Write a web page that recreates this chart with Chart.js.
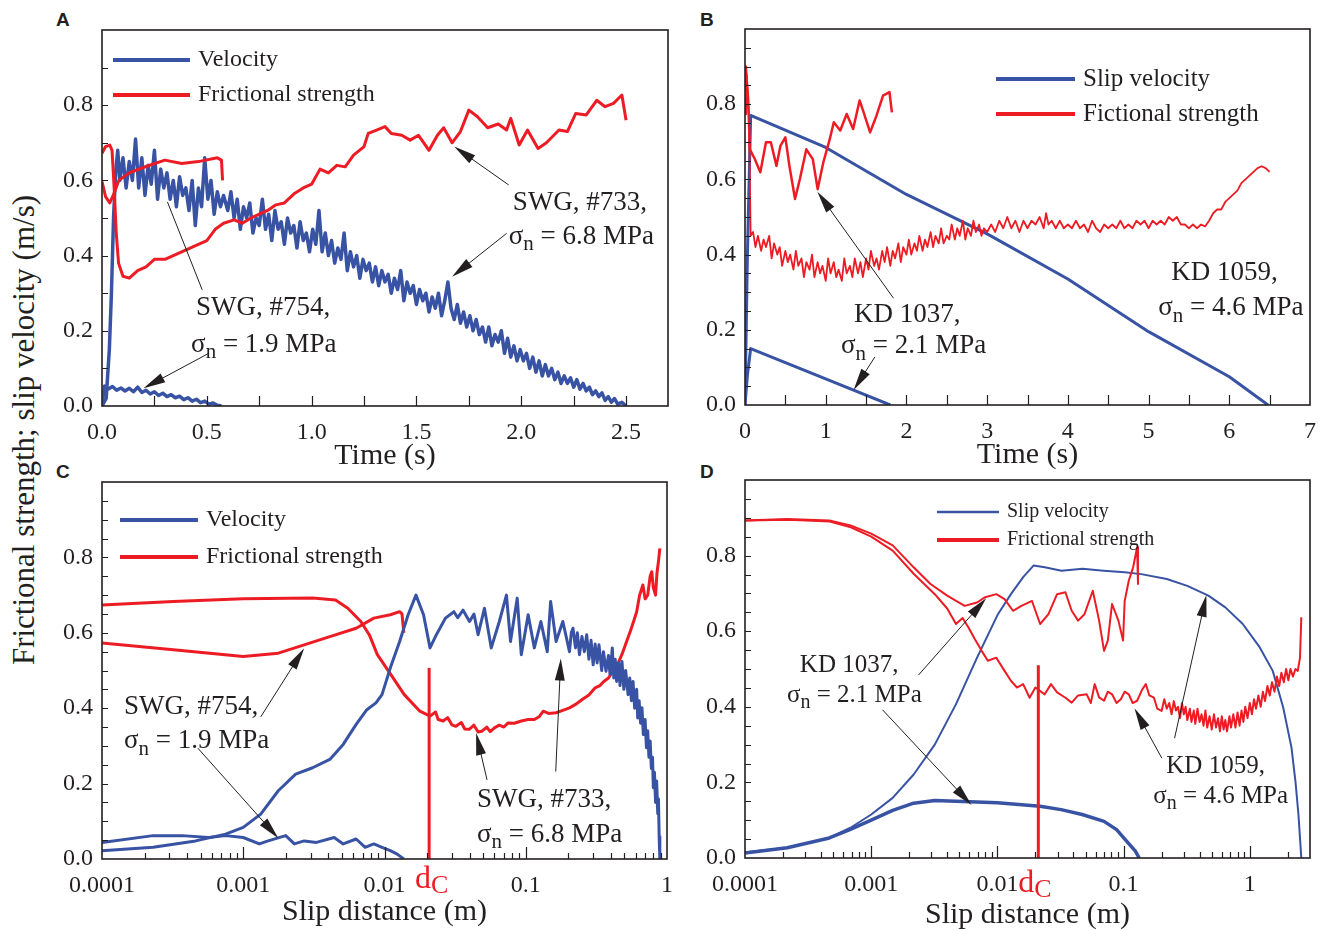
<!DOCTYPE html>
<html>
<head>
<meta charset="utf-8">
<title>Slip velocity and frictional strength</title>
<script src="https://cdn.jsdelivr.net/npm/chart.js@4.4.1/dist/chart.umd.min.js"></script>
<style>
  body { margin: 0; background: #fff; }
  #fig { position: relative; width: 1323px; height: 931px; overflow: hidden; background: #fff; }
  #fig canvas { position: absolute; }
  .tag { position: absolute; font: bold 19px "Liberation Sans", Arial, sans-serif; line-height: 19px; color: #231f20; }
  #ytitle { position: absolute; left: -276px; top: 413px; width: 600px; height: 34px;
            font: 31px "Liberation Serif", "Times New Roman", serif; line-height: 34px;
            text-align: center; color: #231f20; transform: rotate(-90deg); }
</style>
</head>
<body>
<div id="fig">
  <div class="tag" style="left:56px;top:10px">A</div>
  <div class="tag" style="left:700px;top:10px">B</div>
  <div class="tag" style="left:56px;top:462px">C</div>
  <div class="tag" style="left:700px;top:462px">D</div>
  <div id="ytitle">Frictional strength; slip velocity (m/s)</div>
  <canvas id="chartA"></canvas>
  <canvas id="chartB"></canvas>
  <canvas id="chartC"></canvas>
  <canvas id="chartD"></canvas>
</div>
<script>
// colours / fonts
const BLUE = '#3953a4', RED = '#ed1c24', INK = '#231f20';
const SERIF = '"Liberation Serif", "Times New Roman", serif';

// tick labels
const yTickLabels = ['0.0', '0.2', '0.4', '0.6', '0.8'];
const timeLabelsA = ['0.0', '0.5', '1.0', '1.5', '2.0', '2.5'];
const timeLabelsB = ['0', '1', '2', '3', '4', '5', '6', '7'];
const slipLabels = ['0.0001', '0.001', '0.01', '0.1', '1'];

// ---- A : SWG, time (s) ----
const velA733 = [[0,0],[0.02,0.02],[0.035,0.15],[0.045,0.3],[0.055,0.5],[0.065,0.62],[0.075,0.68],[0.085,0.6],[0.1,0.66],[0.115,0.58],[0.13,0.65],[0.145,0.6],[0.16,0.71],[0.175,0.58],[0.19,0.66],[0.205,0.56],[0.22,0.64],[0.235,0.59],[0.25,0.68],[0.265,0.55],[0.28,0.63],[0.295,0.58],[0.31,0.62],[0.325,0.55],[0.34,0.6],[0.355,0.53],[0.37,0.61],[0.385,0.56],[0.4,0.58],[0.415,0.52],[0.43,0.6],[0.445,0.48],[0.46,0.58],[0.475,0.53],[0.49,0.66],[0.505,0.55],[0.52,0.6],[0.535,0.51],[0.55,0.57],[0.565,0.53],[0.58,0.56],
  [0.6,0.52],[0.615,0.57],[0.63,0.5],[0.645,0.55],[0.66,0.47],[0.675,0.53],[0.69,0.5],[0.705,0.54],[0.72,0.46],[0.735,0.5],[0.75,0.48],[0.765,0.55],[0.78,0.47],[0.795,0.51],[0.81,0.44],[0.825,0.52],[0.84,0.47],[0.855,0.49],[0.87,0.43],[0.885,0.5],[0.9,0.46],[0.915,0.48],[0.93,0.42],[0.945,0.49],[0.96,0.44],[0.975,0.46],[0.99,0.41],[1.005,0.47],[1.02,0.43],[1.035,0.52],[1.05,0.41],[1.065,0.46],[1.08,0.4],[1.095,0.44],[1.11,0.38],[1.125,0.42],[1.14,0.39],[1.155,0.46],[1.17,0.36],[1.185,0.41],[1.2,0.37],[1.215,0.4],[1.23,0.34],[1.245,0.39],[1.26,0.36],[1.275,0.38],[1.29,0.33],[1.305,0.37],[1.32,0.32],[1.335,0.36],[1.35,0.33],[1.365,0.35],[1.38,0.3],[1.395,0.34],[1.41,0.31],[1.425,0.36],[1.44,0.28],[1.455,0.33],[1.47,0.3],[1.485,0.32],[1.5,0.27],[1.515,0.31],[1.53,0.28],[1.545,0.3],[1.56,0.25],[1.575,0.29],[1.59,0.26],[1.605,0.3],[1.62,0.24],[1.635,0.28],[1.65,0.33],[1.665,0.26],[1.68,0.23],[1.695,0.27],[1.71,0.22],[1.725,0.25],[1.74,0.21],[1.755,0.24],[1.77,0.2],[1.785,0.23],[1.8,0.19],[1.815,0.21],[1.83,0.17],[1.845,0.21],[1.86,0.16],[1.875,0.19],[1.89,0.17],[1.905,0.2],[1.92,0.14],[1.935,0.18],[1.95,0.13],[1.965,0.16],[1.98,0.12],[1.995,0.15],[2.01,0.12],[2.025,0.14],[2.04,0.1],[2.055,0.13],[2.07,0.09],[2.085,0.12],[2.1,0.08],[2.115,0.11],[2.13,0.08],[2.145,0.1],[2.16,0.07],[2.175,0.09],[2.19,0.06],[2.205,0.08],[2.22,0.06],[2.235,0.075],[2.25,0.05],[2.265,0.07],[2.28,0.045],[2.295,0.06],[2.31,0.04],[2.325,0.05],[2.34,0.03],[2.355,0.04],[2.37,0.025],[2.385,0.035],[2.4,0.015],[2.415,0.025],[2.43,0.01],[2.445,0.02],[2.46,0.005],[2.48,0.01],[2.5,0]];
const strA733 = [[0,0.672],[0.017,0.69],[0.037,0.694],[0.048,0.68],[0.058,0.58],[0.068,0.46],[0.079,0.38],[0.1,0.345],[0.13,0.34],[0.17,0.36],[0.21,0.37],[0.25,0.39],[0.3,0.39],[0.34,0.4],[0.38,0.41],[0.42,0.42],[0.46,0.43],[0.5,0.44],[0.54,0.47],[0.58,0.486],[0.63,0.495],[0.67,0.486],[0.71,0.5],[0.75,0.51],[0.79,0.52],[0.83,0.535],[0.87,0.54],[0.92,0.566],[0.96,0.58],[1,0.59],[1.04,0.63],[1.08,0.62],[1.12,0.64],[1.16,0.636],[1.2,0.667],[1.25,0.69],[1.27,0.725],[1.31,0.734],[1.35,0.743],[1.38,0.725],[1.43,0.72],[1.47,0.707],[1.51,0.72],[1.56,0.68],[1.6,0.72],[1.63,0.74],[1.67,0.7],[1.71,0.73],[1.75,0.787],[1.79,0.77],[1.84,0.74],[1.89,0.75],[1.93,0.734],[1.95,0.765],[1.99,0.694],[2.03,0.734],[2.08,0.685],[2.12,0.7],[2.18,0.734],[2.22,0.73],[2.26,0.778],[2.31,0.774],[2.36,0.813],[2.4,0.796],[2.44,0.805],[2.48,0.827],[2.5,0.76]];
const velA754 = [[0,0],[0.012,0.053],[0.03,0.045],[0.05,0.052],[0.07,0.042],[0.09,0.048],[0.11,0.04],[0.13,0.047],[0.15,0.038],[0.17,0.05],[0.19,0.036],[0.21,0.042],[0.23,0.032],[0.25,0.038],[0.27,0.028],[0.29,0.034],[0.31,0.025],[0.33,0.03],[0.35,0.022],[0.37,0.026],[0.39,0.017],[0.41,0.022],[0.43,0.013],[0.45,0.018],[0.47,0.009],[0.49,0.013],[0.51,0.005],[0.53,0.008],[0.55,0.002],[0.57,0]];
const strA754 = [[0,0.597],[0.017,0.557],[0.037,0.54],[0.058,0.566],[0.08,0.6],[0.13,0.62],[0.21,0.637],[0.3,0.654],[0.38,0.645],[0.46,0.65],[0.55,0.66],[0.57,0.654],[0.575,0.6]];

// ---- B : KD, time (s) ----
const velB1059 = [[0,0],[0.03,0.4],[0.07,0.77],[1,0.685],[2,0.56],[3,0.455],[4,0.335],[5,0.195],[6,0.075],[6.48,0]];
const velB1037 = [[0,0],[0.03,0.08],[0.07,0.15],[0.9,0.078],[1.8,0]];
const strB1037 = [[0,0.774],[0.01,0.9],[0.04,0.81],[0.06,0.68],[0.12,0.655],[0.19,0.619],[0.26,0.699],[0.32,0.699],[0.39,0.636],[0.44,0.69],[0.5,0.712],[0.55,0.636],[0.62,0.548],[0.68,0.601],[0.76,0.68],[0.84,0.654],[0.9,0.574],[0.97,0.645],[1.05,0.707],[1.1,0.752],[1.18,0.73],[1.26,0.774],[1.34,0.734],[1.42,0.81],[1.47,0.778],[1.55,0.725],[1.63,0.77],[1.71,0.823],[1.79,0.832],[1.82,0.778]];
const strB1059 = [[0,0.8],[0.02,0.88],[0.05,0.76],[0.07,0.45],[0.1,0.46],[0.13,0.42],[0.16,0.45],[0.2,0.41],[0.23,0.44],[0.26,0.42],[0.3,0.45],[0.33,0.39],[0.36,0.43],[0.4,0.4],[0.43,0.42],[0.46,0.37],[0.5,0.41],[0.53,0.38],[0.56,0.4],[0.6,0.36],[0.63,0.41],[0.66,0.37],[0.7,0.39],[0.73,0.34],[0.76,0.38],[0.8,0.36],[0.83,0.4],[0.86,0.34],[0.9,0.38],[0.93,0.35],[0.96,0.37],[1,0.33],[1.03,0.39],[1.06,0.35],[1.1,0.38],[1.13,0.34],[1.16,0.36],[1.2,0.33],[1.23,0.39],[1.26,0.35],[1.3,0.37],[1.33,0.34],[1.36,0.39],[1.4,0.35],[1.43,0.38],[1.46,0.34],[1.5,0.39],[1.53,0.36],[1.56,0.41],[1.6,0.37],[1.63,0.39],[1.66,0.36],[1.7,0.41],[1.73,0.38],[1.76,0.42],[1.8,0.37],[1.83,0.41],[1.86,0.39],[1.9,0.43],[1.93,0.38],[1.96,0.42],[2,0.4],[2.03,0.44],[2.06,0.4],[2.1,0.43],[2.13,0.41],[2.16,0.45],[2.2,0.41],[2.23,0.44],[2.26,0.42],[2.3,0.46],[2.33,0.42],[2.36,0.45],[2.4,0.43],[2.43,0.47],[2.46,0.43],[2.5,0.45],[2.53,0.44],[2.56,0.48],[2.6,0.44],[2.63,0.47],[2.66,0.45],[2.7,0.49],[2.73,0.44],[2.76,0.47],[2.8,0.45],[2.83,0.49],[2.86,0.46],[2.9,0.48],[2.93,0.45],[2.96,0.47],[3,0.46],
  [3.05,0.48],[3.1,0.46],[3.15,0.49],[3.2,0.47],[3.25,0.5],[3.3,0.47],[3.35,0.49],[3.4,0.46],[3.45,0.49],[3.5,0.47],[3.55,0.49],[3.6,0.48],[3.65,0.5],[3.7,0.47],[3.73,0.51],[3.76,0.48],[3.8,0.49],[3.85,0.47],[3.9,0.49],[3.95,0.47],[4,0.48],[4.05,0.47],[4.1,0.49],[4.15,0.47],[4.2,0.48],[4.25,0.46],[4.3,0.49],[4.35,0.47],[4.4,0.46],[4.45,0.48],[4.5,0.47],[4.55,0.48],[4.6,0.47],[4.65,0.49],[4.7,0.47],[4.75,0.48],[4.8,0.47],[4.85,0.49],[4.9,0.48],[4.95,0.49],[5,0.47],[5.05,0.49],[5.1,0.48],[5.15,0.49],[5.2,0.48],[5.25,0.5],[5.3,0.49],[5.35,0.5],[5.4,0.48],[5.45,0.48],[5.5,0.47],[5.55,0.48],[5.6,0.47],[5.65,0.48],[5.7,0.475],[5.75,0.49],[5.8,0.51],[5.85,0.52],[5.9,0.52],[5.95,0.54],[6,0.55],[6.05,0.56],[6.1,0.57],[6.15,0.59],[6.2,0.6],[6.25,0.61],[6.3,0.62],[6.35,0.63],[6.4,0.635],[6.45,0.63],[6.5,0.62]];

// ---- C : SWG, slip distance (m) ----
const velC733 = [[1e-4,0.022],[2.3e-4,0.031],[4.6e-4,0.048],[7.5e-4,0.066],[1e-3,0.084],[1.33e-3,0.119],[1.77e-3,0.181],[2.35e-3,0.225],[3.1e-3,0.242],[4.1e-3,0.264],[5.1e-3,0.304],[6.3e-3,0.357],[7.5e-3,0.396],[8.7e-3,0.414],[9.6e-3,0.436],[0.011,0.507],[0.0128,0.577],[0.0147,0.648],[0.0167,0.7],[0.0189,0.648],[0.021,0.56],[0.0233,0.595],[0.027,0.639],[0.031,0.656],[0.033,0.64],[0.036,0.66],[0.04,0.63],[0.043,0.65],[0.046,0.595],[0.051,0.665],[0.057,0.56],[0.065,0.63],[0.073,0.7],[0.078,0.577],[0.087,0.692],[0.093,0.542],[0.104,0.648],[0.115,0.56],[0.128,0.63],[0.142,0.55],[0.15,0.683],[0.164,0.577],[0.183,0.63],[0.204,0.55],[0.21,0.6],[0.216,0.612],[0.225,0.56],[0.232,0.6],[0.24,0.542],[0.25,0.59],[0.26,0.55],[0.27,0.595],[0.28,0.53],[0.29,0.58],[0.3,0.515],[0.31,0.57],[0.32,0.52],[0.33,0.568],[0.345,0.5],[0.355,0.55],[0.37,0.498],[0.385,0.54],[0.395,0.49],[0.41,0.56],[0.42,0.48],[0.43,0.53],[0.44,0.471],[0.455,0.52],[0.465,0.46],[0.48,0.524],[0.495,0.45],[0.51,0.5],[0.53,0.436],[0.545,0.48],[0.56,0.42],[0.575,0.471],[0.59,0.4],[0.61,0.45],[0.62,0.374],[0.635,0.42],[0.65,0.36],[0.665,0.401],[0.68,0.33],[0.7,0.37],[0.715,0.295],[0.73,0.34],[0.745,0.27],[0.76,0.313],[0.775,0.24],[0.79,0.27],[0.8,0.189],[0.815,0.23],[0.83,0.15],[0.845,0.207],[0.86,0.12],[0.87,0.16],[0.88,0.06],[0.89,0]];
const strC733 = [[1e-4,0.674],[3.2e-4,0.683],[1e-3,0.69],[3.1e-3,0.692],[4.5e-3,0.687],[5.5e-3,0.665],[6.8e-3,0.63],[7.8e-3,0.595],[8.9e-3,0.542],[0.0111,0.489],[0.0138,0.436],[0.0178,0.392],[0.021,0.379],[0.023,0.39],[0.024,0.37],[0.026,0.366],[0.028,0.375],[0.03,0.356],[0.032,0.352],[0.035,0.362],[0.037,0.345],[0.0398,0.344],[0.043,0.355],[0.046,0.337],[0.049,0.339],[0.053,0.35],[0.056,0.338],[0.06,0.348],[0.065,0.355],[0.07,0.35],[0.075,0.361],[0.083,0.36],[0.093,0.366],[0.104,0.37],[0.115,0.37],[0.125,0.378],[0.133,0.392],[0.145,0.386],[0.164,0.388],[0.185,0.395],[0.204,0.401],[0.225,0.41],[0.251,0.423],[0.28,0.435],[0.31,0.454],[0.335,0.46],[0.357,0.471],[0.385,0.48],[0.414,0.498],[0.445,0.515],[0.479,0.542],[0.51,0.57],[0.55,0.604],[0.58,0.63],[0.61,0.656],[0.64,0.7],[0.675,0.727],[0.7,0.69],[0.73,0.7],[0.76,0.75],[0.78,0.762],[0.8,0.72],[0.83,0.7],[0.85,0.76],[0.87,0.789],[0.89,0.824]];
const velC754 = [[1e-4,0.044],[2.3e-4,0.062],[3.7e-4,0.062],[5.7e-4,0.057],[7.5e-4,0.062],[1e-3,0.057],[1.3e-3,0.04],[1.5e-3,0.048],[2e-3,0.062],[2.3e-3,0.04],[2.7e-3,0.048],[3.3e-3,0.044],[4.4e-3,0.057],[5.1e-3,0.04],[6.3e-3,0.053],[7.3e-3,0.031],[8.4e-3,0.04],[9.6e-3,0.031],[0.011,0.022],[0.0123,0.013],[0.0137,0]];
const strC754 = [[1e-4,0.573],[3.2e-4,0.555],[1e-3,0.537],[1.77e-3,0.546],[2.7e-3,0.568],[4.1e-3,0.59],[6.3e-3,0.612],[8.4e-3,0.639],[0.011,0.648],[0.0128,0.656],[0.0133,0.65],[0.0137,0.6]];
const dcLineC = [[0.0207,0],[0.0207,0.507]];

// ---- D : KD, slip distance (m) ----
const velD1059 = [[1e-4,0.015],[2.16e-4,0.027],[4.66e-4,0.053],[6.85e-4,0.08],[1e-3,0.115],[1.48e-3,0.159],[2.17e-3,0.221],[3.19e-3,0.3],[4.7e-3,0.407],[6.9e-3,0.53],[0.0101,0.645],[0.0128,0.698],[0.016,0.743],[0.0194,0.774],[0.0237,0.769],[0.0322,0.76],[0.0473,0.765],[0.0695,0.76],[0.102,0.756],[0.138,0.751],[0.22,0.738],[0.32,0.72],[0.47,0.694],[0.64,0.663],[0.88,0.619],[1.2,0.557],[1.52,0.495],[1.84,0.398],[2.14,0.292],[2.3,0.203],[2.43,0.115],[2.56,0]];
const velD1037 = [[1e-4,0.013],[2.16e-4,0.027],[4.66e-4,0.053],[6.85e-4,0.076],[1e-3,0.1],[1.48e-3,0.126],[2.17e-3,0.145],[3.19e-3,0.152],[4.7e-3,0.15],[0.01,0.146],[0.0218,0.137],[0.032,0.128],[0.047,0.115],[0.07,0.097],[0.088,0.075],[0.106,0.044],[0.124,0.018],[0.133,0]];
const strD1037 = [[1e-4,0.893],[2.16e-4,0.897],[4.66e-4,0.893],[6.85e-4,0.88],[1e-3,0.858],[1.48e-3,0.827],[2.17e-3,0.769],[2.95e-3,0.725],[4e-3,0.694],[5.5e-3,0.667],[6.9e-3,0.676],[8e-3,0.69],[9.8e-3,0.698],[0.0114,0.685],[0.0133,0.654],[0.0155,0.667],[0.0188,0.68],[0.0218,0.619],[0.0254,0.645],[0.0297,0.698],[0.0346,0.703],[0.0388,0.654],[0.0436,0.628],[0.049,0.645],[0.057,0.707],[0.064,0.628],[0.07,0.548],[0.075,0.575],[0.081,0.672],[0.091,0.628],[0.099,0.575],[0.102,0.68],[0.11,0.734],[0.119,0.769],[0.128,0.822],[0.13,0.725]];
const strD1059 = [[1e-4,0.893],[2.2e-4,0.895],[4.7e-4,0.89],[6.9e-4,0.875],[1e-3,0.85],[1.48e-3,0.813],[2.17e-3,0.752],[3.19e-3,0.698],[4e-3,0.66],[4.7e-3,0.619],[5.3e-3,0.635],[5.9e-3,0.61],[6.6e-3,0.58],[7.5e-3,0.548],[8.4e-3,0.522],[9.8e-3,0.53],[0.0114,0.495],[0.0128,0.469],[0.0143,0.451],[0.016,0.46],[0.018,0.424],[0.02,0.451],[0.0237,0.433],[0.0266,0.46],[0.0297,0.438],[0.0346,0.424],[0.0388,0.411],[0.0436,0.43],[0.051,0.433],[0.055,0.41],[0.059,0.46],[0.064,0.425],[0.07,0.416],[0.075,0.44],[0.081,0.433],[0.088,0.41],[0.095,0.42],[0.102,0.44],[0.11,0.433],[0.118,0.41],[0.128,0.416],[0.14,0.445],[0.15,0.46],[0.16,0.43],[0.174,0.424],[0.185,0.395],[0.2,0.389],[0.21,0.42],[0.22,0.395],[0.23,0.41],[0.24,0.38],[0.25,0.415],[0.26,0.39],[0.27,0.4],[0.28,0.37],[0.29,0.41],[0.3,0.38],[0.31,0.4],[0.32,0.365],[0.335,0.395],[0.345,0.36],[0.36,0.39],[0.37,0.355],[0.385,0.395],[0.4,0.36],[0.415,0.38],[0.43,0.35],[0.445,0.39],[0.46,0.345],[0.48,0.375],[0.5,0.34],[0.52,0.38],[0.54,0.345],[0.56,0.37],[0.58,0.335],[0.6,0.375],[0.62,0.34],[0.64,0.365],[0.66,0.335],[0.69,0.375],[0.71,0.345],[0.74,0.38],[0.77,0.345],[0.8,0.385],[0.83,0.35],[0.86,0.39],[0.89,0.36],[0.92,0.4],[0.96,0.37],[1,0.41],[1.04,0.38],[1.08,0.42],[1.12,0.395],[1.17,0.43],[1.22,0.4],[1.27,0.44],[1.32,0.415],[1.38,0.455],[1.44,0.43],[1.5,0.465],[1.57,0.44],[1.64,0.48],[1.71,0.455],[1.78,0.49],[1.86,0.465],[1.94,0.5],[2.02,0.47],[2.1,0.5],[2.2,0.48],[2.3,0.5],[2.4,0.495],[2.5,0.53],[2.56,0.637]];
const dcLineD = [[0.0211,0],[0.0211,0.51]];

// ---------------------------------------------------------------
const AXIS_W = 60, PAD_T = 10, PAD_R = 14;

const toXY = arr => arr.map(p => ({ x: p[0], y: p[1] }));
function series(arr, color, width) {
    return { data: toXY(arr), borderColor: color, borderWidth: width, pointRadius: 0,
             tension: 0, fill: false, borderJoinStyle: 'round' };
}

function yAxis() {
    return {
        type: 'linear', min: 0, max: 1,
        grid: { display: false, drawTicks: false }, border: { display: false },
        ticks: { stepSize: 0.2, autoSkip: false, padding: 9, color: INK,
                 font: { family: SERIF, size: 24 },
                 callback: v => yTickLabels[Math.round(v / 0.2)] ?? '' },
        afterFit: s => { s.width = AXIS_W; s.paddingTop = 0; s.paddingBottom = 0; }
    };
}

function xAxisBase(axH, title) {
    return {
        grid: { display: false, drawTicks: false }, border: { display: false },
        title: { display: true, text: title, color: INK, font: { family: SERIF, size: 30 }, padding: 0 },
        afterFit: s => { s.height = axH; s.paddingLeft = 0; s.paddingRight = 0; }
    };
}

function timeAxis(max, step, labels, axH) {
    return Object.assign(xAxisBase(axH, 'Time (s)'), {
        type: 'linear', min: 0, max,
        ticks: { stepSize: step, includeBounds: false, autoSkip: false, maxRotation: 0, padding: 12,
                 color: INK, font: { family: SERIF, size: 24 },
                 callback: v => labels[Math.round(v / step)] ?? '' }
    });
}

function slipAxis(max, axH) {
    return Object.assign(xAxisBase(axH, 'Slip distance (m)'), {
        type: 'logarithmic', min: 1e-4, max,
        ticks: { autoSkip: false, maxRotation: 0, padding: 12, color: INK,
                 font: { family: SERIF, size: 24 },
                 callback: v => {
                     const l = Math.log10(v), r = Math.round(l);
                     return Math.abs(l - r) < 1e-6 ? (slipLabels[r + 4] ?? '') : '';
                 } }
    });
}

// frame, inward ticks, legend, annotations
function decor(spec) {
    return {
        id: 'decor',
        afterDatasetsDraw(chart) {
            const ctx = chart.ctx, a = chart.chartArea;
            const sx = chart.scales.x, sy = chart.scales.y;
            const X = v => sx.getPixelForValue(v), Y = v => sy.getPixelForValue(v);
            ctx.save();
            ctx.strokeStyle = INK; ctx.fillStyle = INK;

            ctx.lineWidth = 1.2;
            ctx.beginPath();
            for (let k = 1; k * spec.yStep < 0.999; k++) {
                const y = Math.round(Y(k * spec.yStep)) + 0.5;
                ctx.moveTo(a.left, y); ctx.lineTo(a.left + 6, y);
            }
            if (spec.log) {
                for (let d = -4; d <= 0; d++) {
                    for (let m = 1; m <= 9; m++) {
                        const v = m * Math.pow(10, d);
                        if (v <= sx.min * 1.0001 || v >= sx.max * 0.999) continue;
                        const x = Math.round(X(v)) + 0.5;
                        ctx.moveTo(x, a.bottom); ctx.lineTo(x, a.bottom - (m === 1 ? 12 : 6));
                    }
                }
            } else {
                for (let k = 1; k * spec.xStep < sx.max - 1e-6; k++) {
                    const x = Math.round(X(k * spec.xStep)) + 0.5;
                    ctx.moveTo(x, a.bottom); ctx.lineTo(x, a.bottom - 10);
                }
            }
            ctx.stroke();

            ctx.lineWidth = 1.6;
            ctx.strokeRect(a.left, a.top, a.right - a.left, a.bottom - a.top);

            // legend
            const lg = spec.legend;
            ctx.textBaseline = 'middle';
            ctx.font = lg.size + 'px ' + SERIF;
            [BLUE, RED].forEach((c, i) => {
                const y = a.top + lg.ys[i];
                ctx.strokeStyle = c; ctx.lineWidth = lg.widths[i];
                ctx.beginPath(); ctx.moveTo(a.left + lg.x1, y); ctx.lineTo(a.left + lg.x2, y); ctx.stroke();
                ctx.fillStyle = INK;
                ctx.fillText(lg.labels[i], a.left + lg.tx, y);
            });

            // notes
            ctx.textBaseline = 'alphabetic';
            ctx.strokeStyle = INK; ctx.fillStyle = INK; ctx.lineWidth = 1;
            spec.notes.forEach(n => {
                if (n.k === 'text') {
                    ctx.font = spec.size + 'px ' + SERIF;
                    ctx.fillText(n.s, X(n.x), Y(n.y));
                } else if (n.k === 'sigma') {
                    sigma(ctx, X(n.x), Y(n.y), n.s, spec.size);
                } else {
                    arrow(ctx, X(n.x1), Y(n.y1), X(n.x2), Y(n.y2), n.k === 'arrow');
                }
            });

            // d_C label
            if (spec.dc) {
                const x = X(spec.dc.x), y = Y(spec.dc.y);
                ctx.fillStyle = RED;
                ctx.font = '32px ' + SERIF;
                ctx.fillText('d', x, y);
                const w = ctx.measureText('d').width;
                ctx.font = '26px ' + SERIF;
                ctx.fillText('C', x + w, y + 5);
            }
            ctx.restore();
        }
    };
}

function sigma(ctx, x, y, rest, size) {
    ctx.font = size + 'px ' + SERIF;
    ctx.fillText('\u03c3', x, y);
    let w = ctx.measureText('\u03c3').width;
    ctx.font = Math.round(size * 0.78) + 'px ' + SERIF;
    ctx.fillText('n', x + w, y + size * 0.24);
    w += ctx.measureText('n').width;
    ctx.font = size + 'px ' + SERIF;
    ctx.fillText(' = ' + rest, x + w, y);
}

function arrow(ctx, x1, y1, x2, y2, head) {
    const ang = Math.atan2(y2 - y1, x2 - x1);
    const L = head ? 22 : 0;
    ctx.beginPath();
    ctx.moveTo(x1, y1);
    ctx.lineTo(x2 - Math.cos(ang) * L * 0.8, y2 - Math.sin(ang) * L * 0.8);
    ctx.stroke();
    if (!head) return;
    const bx = x2 - Math.cos(ang) * L, by = y2 - Math.sin(ang) * L;
    const nx = -Math.sin(ang) * 5, ny = Math.cos(ang) * 5;
    ctx.beginPath();
    ctx.moveTo(x2, y2);
    ctx.lineTo(bx + nx, by + ny);
    ctx.lineTo(bx - nx, by - ny);
    ctx.closePath();
    ctx.fill();
}

function makeChart(id, geo, xScale, datasets, spec) {
    const canvas = document.getElementById(id);
    const w = geo.R - geo.L + AXIS_W + PAD_R;
    const h = geo.B - geo.T + PAD_T + geo.axH;
    canvas.width = w; canvas.height = h;
    canvas.style.width = w + 'px'; canvas.style.height = h + 'px';
    canvas.style.left = (geo.L - AXIS_W) + 'px';
    canvas.style.top = (geo.T - PAD_T) + 'px';
    return new Chart(canvas, {
        type: 'line',
        data: { datasets },
        options: {
            responsive: false, animation: false, devicePixelRatio: 1,
            layout: { padding: { top: PAD_T, right: PAD_R, left: 0, bottom: 0 } },
            plugins: { legend: { display: false }, tooltip: { enabled: false } },
            scales: { x: xScale, y: yAxis() }
        },
        plugins: [decor(spec)]
    });
}

// ---- A ----
makeChart('chartA', { L: 102, T: 30, R: 668, B: 406, axH: 68 },
    timeAxis(2.7, 0.5, timeLabelsA, 68),
    [series(strA733, RED, 3), series(strA754, RED, 3), series(velA733, BLUE, 3.5), series(velA754, BLUE, 3.5)],
    { yStep: 0.1, xStep: 0.25, size: 27,
      legend: { x1: 11, x2: 88, tx: 96, ys: [30, 65], size: 24, widths: [4, 4], labels: ['Velocity', 'Frictional strength'] },
      notes: [
        { k: 'text', x: 1.96, y: 0.521, s: 'SWG, #733,' },
        { k: 'sigma', x: 1.94, y: 0.431, s: '6.8 MPa' },
        { k: 'text', x: 0.448, y: 0.242, s: 'SWG, #754,' },
        { k: 'sigma', x: 0.425, y: 0.144, s: '1.9 MPa' },
        { k: 'arrow', x1: 1.94, y1: 0.588, x2: 1.68, y2: 0.69 },
        { k: 'arrow', x1: 1.93, y1: 0.459, x2: 1.67, y2: 0.344 },
        { k: 'line', x1: 0.478, y1: 0.309, x2: 0.312, y2: 0.543 },
        { k: 'arrow', x1: 0.509, y1: 0.14, x2: 0.198, y2: 0.047 }
      ] });

// ---- B ----
makeChart('chartB', { L: 745, T: 29, R: 1310, B: 405, axH: 68 },
    timeAxis(7, 1, timeLabelsB, 68),
    [series(strB1037, RED, 2.5), series(strB1059, RED, 1.8), series(velB1059, BLUE, 3), series(velB1037, BLUE, 3)],
    { yStep: 0.05, xStep: 0.5, size: 27,
      legend: { x1: 251, x2: 330, tx: 338, ys: [50, 85], size: 25, widths: [4, 4], labels: ['Slip velocity', 'Fictional strength'] },
      notes: [
        { k: 'text', x: 1.35, y: 0.221, s: 'KD 1037,' },
        { k: 'sigma', x: 1.19, y: 0.138, s: '2.1 MPa' },
        { k: 'text', x: 5.28, y: 0.332, s: 'KD 1059,' },
        { k: 'sigma', x: 5.12, y: 0.239, s: '4.6 MPa' },
        { k: 'arrow', x1: 1.84, y1: 0.284, x2: 0.897, y2: 0.567 },
        { k: 'arrow', x1: 1.61, y1: 0.128, x2: 1.346, y2: 0.04 }
      ] });

// ---- C ----
makeChart('chartC', { L: 102, T: 482, R: 667, B: 859, axH: 71 },
    slipAxis(1, 71),
    [series(dcLineC, RED, 3), series(velC733, BLUE, 3), series(velC754, BLUE, 3), series(strC733, RED, 3), series(strC754, RED, 3)],
    { yStep: 0.05, log: true, size: 27,
      legend: { x1: 18, x2: 96, tx: 104, ys: [38, 75], size: 24, widths: [4, 4], labels: ['Velocity', 'Frictional strength'] },
      dc: { x: 0.01644, y: -0.077 },
      notes: [
        { k: 'text', x: 1.43e-4, y: 0.385, s: 'SWG, #754,' },
        { k: 'sigma', x: 1.43e-4, y: 0.294, s: '1.9 MPa' },
        { k: 'text', x: 0.0452, y: 0.139, s: 'SWG, #733,' },
        { k: 'sigma', x: 0.0452, y: 0.046, s: '6.8 MPa' },
        { k: 'arrow', x1: 1.33e-3, y1: 0.377, x2: 2.7e-3, y2: 0.559 },
        { k: 'arrow', x1: 4.77e-4, y1: 0.294, x2: 1.77e-3, y2: 0.055 },
        { k: 'arrow', x1: 0.0532, y1: 0.21, x2: 0.0445, y2: 0.334 },
        { k: 'arrow', x1: 0.163, y1: 0.232, x2: 0.177, y2: 0.532 }
      ] });

// ---- D ----
makeChart('chartD', { L: 745, T: 480, R: 1310, B: 858, axH: 75 },
    slipAxis(3, 75),
    [series(dcLineD, RED, 3), series(strD1037, RED, 2), series(strD1059, RED, 2), series(velD1059, BLUE, 2), series(velD1037, BLUE, 3.5)],
    { yStep: 0.05, log: true, size: 25,
      legend: { x1: 192, x2: 254, tx: 262, ys: [32, 60], size: 20, widths: [2.5, 4], labels: ['Slip velocity', 'Frictional strength'] },
      dc: { x: 0.0146, y: -0.089 },
      notes: [
        { k: 'text', x: 2.72e-4, y: 0.493, s: 'KD 1037,' },
        { k: 'sigma', x: 2.15e-4, y: 0.413, s: '2.1 MPa' },
        { k: 'text', x: 0.218, y: 0.224, s: 'KD 1059,' },
        { k: 'sigma', x: 0.172, y: 0.145, s: '4.6 MPa' },
        { k: 'arrow', x1: 2.37e-3, y1: 0.484, x2: 8.15e-3, y2: 0.687 },
        { k: 'arrow', x1: 1.23e-3, y1: 0.392, x2: 6.24e-3, y2: 0.14 },
        { k: 'arrow', x1: 0.201, y1: 0.264, x2: 0.122, y2: 0.396 },
        { k: 'arrow', x1: 0.2535, y1: 0.317, x2: 0.453, y2: 0.696 }
      ] });
</script>
</body>
</html>
